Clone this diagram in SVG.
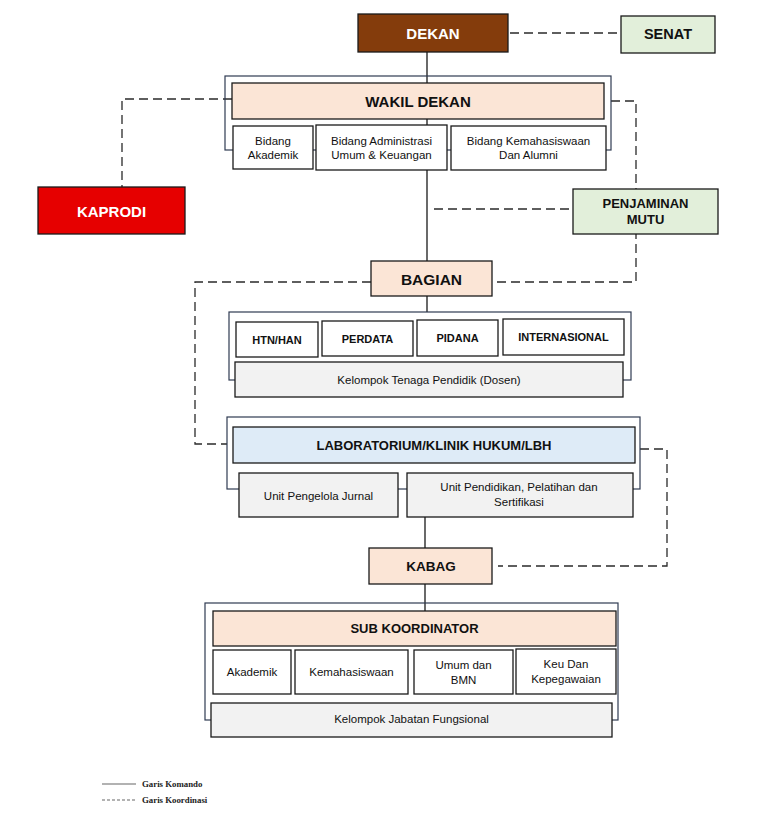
<svg xmlns="http://www.w3.org/2000/svg" width="764" height="823" viewBox="0 0 764 823">
<style>
.bg{fill:#ffffff}
.box{stroke:#1a1a1a;stroke-width:1.3}
.white{fill:#ffffff}
.peach{fill:#FBE5D6}
.green{fill:#E2EFDA}
.gray{fill:#F2F2F2}
.blue{fill:#DEEBF7}
.cont{fill:none;stroke:#2F3B52;stroke-width:1.2}
.cmd{fill:none;stroke:#1a1a1a;stroke-width:1.3}
.crd{fill:none;stroke:#2a2a2a;stroke-width:1.3;stroke-dasharray:9 5}
text{font-family:"Liberation Sans",Arial,sans-serif;text-anchor:middle;dominant-baseline:central;fill:#111}
.s{font-size:11.5px}
.h{font-weight:bold}
.w{fill:#ffffff}
.lg{font-family:"Liberation Serif","Times New Roman",serif;font-size:8.8px;font-weight:bold;text-anchor:start;dominant-baseline:auto;fill:#222}
</style>
<rect class="bg" x="0" y="0" width="764" height="823"/>

<g id="connectors">
  <!-- command lines -->
  <line class="cmd" x1="427" y1="52" x2="427" y2="261"/>
  <line class="cmd" x1="427" y1="296" x2="427" y2="312"/>
  <line class="cmd" x1="425" y1="517" x2="425" y2="548"/>
  <line class="cmd" x1="425" y1="584" x2="425" y2="611"/>
  <!-- coordination lines -->
  <line class="crd" x1="510" y1="33" x2="621" y2="33"/>
  <polyline class="crd" points="232,99 122,99 122,187"/>
  <polyline class="crd" points="611,101 636,101 636,282 495,282"/>
  <line class="crd" x1="434" y1="209" x2="573" y2="209"/>
  <polyline class="crd" points="371,282 195,282 195,444 227,444"/>
  <polyline class="crd" points="640,449 667,449 667,566 498,566"/>
</g>

<g id="dekan">
  <rect class="box" x="358" y="14" width="150" height="38" fill="#843C0C"/>
  <text class="h w" x="433" y="33" font-size="15">DEKAN</text>
</g>
<g id="senat">
  <rect class="box green" x="621" y="16" width="94" height="37"/>
  <text class="h" x="668" y="34" font-size="14.5">SENAT</text>
</g>

<g id="wakil-dekan-group">
  <rect class="cont" x="225" y="76" width="386" height="74"/>
  <g id="wakil-dekan">
    <rect class="box peach" x="232" y="83" width="372" height="36"/>
    <text class="h" x="418" y="101" font-size="15">WAKIL DEKAN</text>
  </g>
  <g id="bidang-akademik">
    <rect class="box white" x="233" y="126" width="80" height="43"/>
    <text class="s" x="273" y="141">Bidang</text>
    <text class="s" x="273" y="155">Akademik</text>
  </g>
  <g id="bidang-administrasi">
    <rect class="box white" x="316" y="125" width="131" height="45"/>
    <text class="s" x="381.5" y="141">Bidang Administrasi</text>
    <text class="s" x="381.5" y="155">Umum &amp; Keuangan</text>
  </g>
  <g id="bidang-kemahasiswaan">
    <rect class="box white" x="451" y="126" width="155" height="44"/>
    <text class="s" x="528.5" y="141">Bidang Kemahasiswaan</text>
    <text class="s" x="528.5" y="155">Dan Alumni</text>
  </g>
</g>

<g id="kaprodi">
  <rect class="box" x="38" y="187" width="147" height="47" fill="#E60000"/>
  <text class="h w" x="111.5" y="211" font-size="15">KAPRODI</text>
</g>

<g id="penjaminan-mutu">
  <rect class="box green" x="573" y="189" width="145" height="45"/>
  <text class="h" x="645.5" y="203" font-size="13">PENJAMINAN</text>
  <text class="h" x="645.5" y="219" font-size="13">MUTU</text>
</g>

<g id="bagian">
  <rect class="box peach" x="371" y="261" width="121" height="35"/>
  <text class="h" x="431.5" y="279" font-size="15.5">BAGIAN</text>
</g>

<g id="bagian-group">
  <rect class="cont" x="229" y="312" width="402" height="68"/>
  <g id="htn-han">
    <rect class="box white" x="236" y="322" width="82" height="35"/>
    <text class="h" x="277" y="339.5" font-size="11">HTN/HAN</text>
  </g>
  <g id="perdata">
    <rect class="box white" x="322" y="321" width="91" height="35"/>
    <text class="h" x="367.5" y="339" font-size="11">PERDATA</text>
  </g>
  <g id="pidana">
    <rect class="box white" x="417" y="320" width="81" height="36"/>
    <text class="h" x="457.5" y="338" font-size="11">PIDANA</text>
  </g>
  <g id="internasional">
    <rect class="box white" x="503" y="319" width="121" height="36"/>
    <text class="h" x="563.5" y="337" font-size="11">INTERNASIONAL</text>
  </g>
  <g id="kelompok-dosen">
    <rect class="box gray" x="235" y="362" width="388" height="35"/>
    <text class="s" x="429" y="380">Kelompok Tenaga Pendidik (Dosen)</text>
  </g>
</g>

<g id="lab-group">
  <rect class="cont" x="227" y="417" width="413" height="72"/>
  <g id="laboratorium">
    <rect class="box blue" x="233" y="427" width="402" height="36"/>
    <text class="h" x="434" y="445" font-size="13">LABORATORIUM/KLINIK HUKUM/LBH</text>
  </g>
  <g id="unit-jurnal">
    <rect class="box gray" x="239" y="473" width="159" height="44"/>
    <text class="s" x="318.5" y="496">Unit Pengelola Jurnal</text>
  </g>
  <g id="unit-pendidikan">
    <rect class="box gray" x="407" y="473" width="226" height="44"/>
    <text class="s" x="519" y="487">Unit Pendidikan, Pelatihan dan</text>
    <text class="s" x="519" y="502">Sertifikasi</text>
  </g>
</g>

<g id="kabag">
  <rect class="box peach" x="369" y="548" width="123" height="36"/>
  <text class="h" x="431" y="566" font-size="13.5">KABAG</text>
</g>

<g id="sub-group">
  <rect class="cont" x="205" y="603" width="413" height="117"/>
  <g id="sub-koordinator">
    <rect class="box peach" x="213" y="611" width="403" height="35"/>
    <text class="h" x="414.5" y="628" font-size="13">SUB KOORDINATOR</text>
  </g>
  <g id="akademik">
    <rect class="box white" x="213" y="650" width="78" height="44"/>
    <text class="s" x="252" y="672">Akademik</text>
  </g>
  <g id="kemahasiswaan">
    <rect class="box white" x="295" y="650" width="113" height="44"/>
    <text class="s" x="351.5" y="672">Kemahasiswaan</text>
  </g>
  <g id="umum-bmn">
    <rect class="box white" x="414" y="650" width="99" height="44"/>
    <text class="s" x="463.5" y="665">Umum dan</text>
    <text class="s" x="463.5" y="680">BMN</text>
  </g>
  <g id="keu-kepegawaian">
    <rect class="box white" x="516" y="649" width="100" height="45"/>
    <text class="s" x="566" y="664">Keu Dan</text>
    <text class="s" x="566" y="679">Kepegawaian</text>
  </g>
  <g id="kelompok-fungsional">
    <rect class="box gray" x="211" y="703" width="401" height="34"/>
    <text class="s" x="411.5" y="719">Kelompok Jabatan Fungsional</text>
  </g>
</g>

<g id="legend">
  <line x1="102" y1="784" x2="136" y2="784" stroke="#666" stroke-width="1.2"/>
  <text class="lg" x="142" y="787">Garis Komando</text>
  <line x1="102" y1="800" x2="136" y2="800" stroke="#666" stroke-width="1.2" stroke-dasharray="3 2"/>
  <text class="lg" x="142" y="803">Garis Koordinasi</text>
</g>
</svg>
